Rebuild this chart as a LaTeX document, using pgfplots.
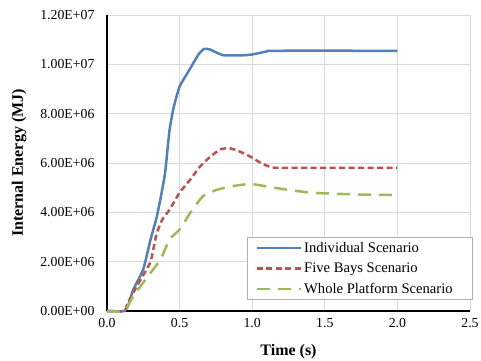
\documentclass[border=0pt]{standalone}
\usepackage{fontspec}
\setmainfont{Liberation Serif}
\usepackage{pgfplots}
\pgfplotsset{compat=1.18}
\definecolor{cblue}{RGB}{79,129,189}
\definecolor{cred}{RGB}{192,80,77}
\definecolor{cgreen}{RGB}{155,187,89}
\definecolor{cgrid}{RGB}{217,217,217}
\begin{document}
\begin{tikzpicture}
\begin{axis}[
  scale only axis, width=363pt, height=296pt,
  xmin=0, xmax=2.5, ymin=0, ymax=1.2e7,
  xtick={0,0.5,...,2.5},
  ytick={0,2e6,4e6,6e6,8e6,1e7,1.2e7},
  yticklabels={0.00E+00,2.00E+06,4.00E+06,6.00E+06,8.00E+06,1.00E+07,1.20E+07},
  scaled y ticks=false,
  xticklabel style={yshift=-4pt, /pgf/number format/.cd, fixed, fixed zerofill, precision=1},
  /pgf/number format/assume math mode=true,
  tick label style={font=\fontsize{13.8}{16}\selectfont},
  yticklabel style={xshift=-9pt},
  major tick length=0pt,
  axis x line*=bottom, axis y line*=left,
  axis line style={black, line width=1.6pt, -},
  grid=major, grid style={cgrid, line width=0.8pt},
  xlabel={\textbf{Time (s)}}, ylabel={\textbf{Internal Energy (MJ)}},
  label style={font=\fontsize{16}{19}\selectfont},
  xlabel style={yshift=-10pt},
  ylabel shift=7pt,
  legend style={at={(1.008,0.037)}, anchor=south east, draw=gray!60, line width=0.6pt,
    font=\fontsize{14.6}{17}\selectfont, row sep=5pt, inner xsep=8pt, inner ysep=3pt},
  legend cell align=left,
  legend image code/.code={\draw[#1] (0cm,0cm) -- (1.55cm,0cm);},
  clip=false,
]
\addplot[cblue, line width=2.5pt, smooth, tension=0.3] coordinates {
(0,0) (0.12,0) (0.15,0.3e6) (0.18,0.85e6) (0.25,1.7e6) (0.30,2.9e6) (0.34,3.75e6)
(0.37,4.6e6) (0.40,5.6e6) (0.43,7.3e6) (0.457,8.2e6) (0.50,9.1e6) (0.57,9.8e6)
(0.63,10.4e6) (0.67,10.63e6) (0.71,10.6e6) (0.80,10.37e6) (0.95,10.37e6)
(1.00,10.4e6) (1.10,10.52e6) (1.15,10.55e6) (2.00,10.55e6)};
\addlegendentry{Individual Scenario}
\addplot[cred, line width=2.5pt, dash pattern=on 6pt off 3.5pt, smooth, tension=0.3] coordinates {
(0,0) (0.12,0) (0.14,0.3e6) (0.23,1.26e6) (0.30,2.0e6) (0.34,3.1e6) (0.38,3.7e6)
(0.43,4.1e6) (0.50,4.8e6) (0.57,5.3e6) (0.64,5.85e6) (0.71,6.25e6) (0.78,6.55e6)
(0.84,6.6e6) (0.90,6.5e6) (0.99,6.25e6) (1.06,6.0e6) (1.12,5.85e6) (1.20,5.8e6) (2.00,5.8e6)};
\addlegendentry{Five Bays Scenario}
\addplot[cgreen, line width=2.5pt, dash pattern=on 13pt off 8pt, smooth, tension=0.3] coordinates {
(0,0) (0.12,0) (0.18,0.6e6) (0.30,1.55e6) (0.37,2.1e6) (0.43,2.9e6) (0.50,3.3e6)
(0.57,3.95e6) (0.66,4.65e6) (0.75,4.9e6) (0.85,5.05e6) (0.98,5.15e6) (1.05,5.1e6)
(1.15,5.0e6) (1.26,4.9e6) (1.40,4.8e6) (1.50,4.77e6) (1.75,4.72e6) (2.00,4.7e6)};
\addlegendentry{Whole Platform Scenario\hspace*{10pt}}
\end{axis}
\pgfresetboundingbox
\path (-107pt,-49pt) rectangle (374pt,311pt);
\end{tikzpicture}
\end{document}
